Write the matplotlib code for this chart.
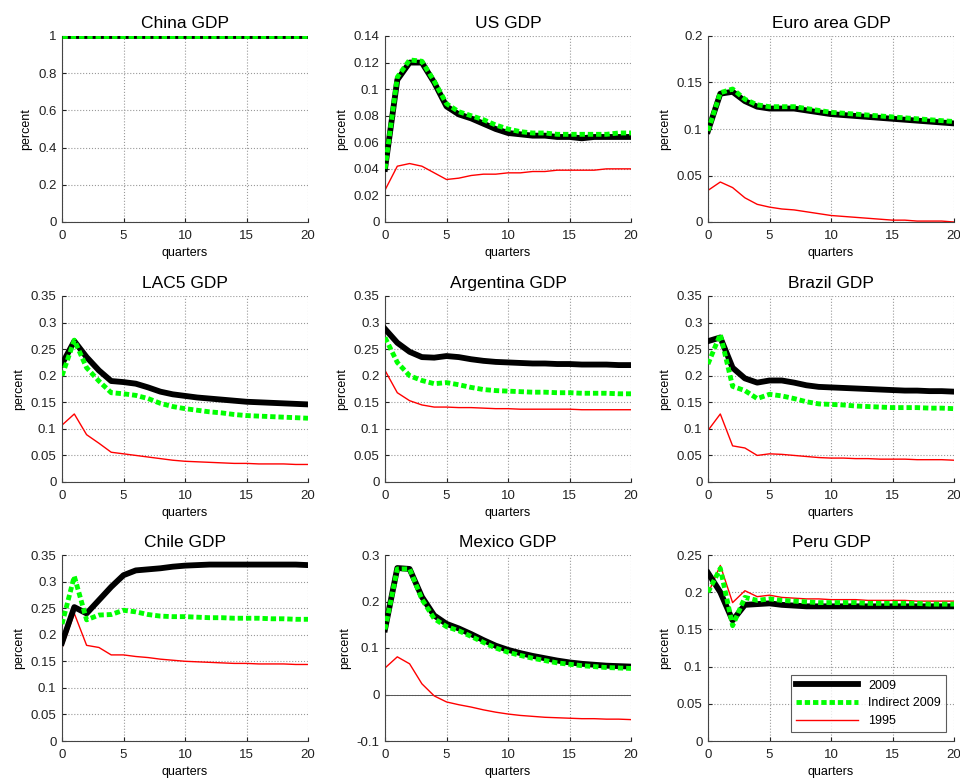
import matplotlib
matplotlib.use("Agg")
import matplotlib.pyplot as plt
import numpy as np

plt.rcParams['font.family'] = ['Liberation Sans', 'DejaVu Sans']

quarters = np.arange(21)

titles = ["China GDP", "US GDP", "Euro area GDP",
          "LAC5 GDP", "Argentina GDP", "Brazil GDP",
          "Chile GDP", "Mexico GDP", "Peru GDP"]

# 2009 (black), Indirect 2009 (green dashed), 1995 (red)
china_2009 = [1.0] * 21
china_ind = [1.0] * 21
china_1995 = [1.0] * 21

us_2009 = [0.040, 0.107, 0.120, 0.120, 0.105, 0.087, 0.081, 0.078, 0.074, 0.070, 0.067,
           0.066, 0.065, 0.065, 0.064, 0.064, 0.063, 0.064, 0.064, 0.064, 0.064]
us_ind = [0.040, 0.109, 0.122, 0.121, 0.106, 0.089, 0.083, 0.080, 0.077, 0.073, 0.070,
          0.068, 0.067, 0.067, 0.066, 0.066, 0.066, 0.066, 0.066, 0.067, 0.067]
us_1995 = [0.024, 0.042, 0.044, 0.042, 0.037, 0.032, 0.033, 0.035, 0.036, 0.036, 0.037,
           0.037, 0.038, 0.038, 0.039, 0.039, 0.039, 0.039, 0.040, 0.040, 0.040]

euro_2009 = [0.098, 0.138, 0.140, 0.130, 0.124, 0.122, 0.122, 0.122, 0.120, 0.118, 0.116,
             0.115, 0.114, 0.113, 0.112, 0.111, 0.110, 0.109, 0.108, 0.107, 0.106]
euro_ind = [0.098, 0.139, 0.143, 0.132, 0.126, 0.124, 0.124, 0.124, 0.122, 0.120, 0.118,
            0.117, 0.116, 0.115, 0.114, 0.113, 0.112, 0.111, 0.110, 0.109, 0.108]
euro_1995 = [0.034, 0.043, 0.037, 0.026, 0.019, 0.016, 0.014, 0.013, 0.011, 0.009, 0.007,
             0.006, 0.005, 0.004, 0.003, 0.002, 0.002, 0.001, 0.001, 0.001, 0.000]

lac5_2009 = [0.222, 0.265, 0.235, 0.210, 0.190, 0.188, 0.185, 0.178, 0.170, 0.165, 0.162,
             0.159, 0.157, 0.155, 0.153, 0.151, 0.150, 0.149, 0.148, 0.147, 0.146]
lac5_ind = [0.200, 0.267, 0.215, 0.190, 0.168, 0.166, 0.163, 0.157, 0.148, 0.142, 0.138,
            0.135, 0.132, 0.130, 0.127, 0.125, 0.124, 0.123, 0.122, 0.121, 0.120]
lac5_1995 = [0.107, 0.128, 0.089, 0.073, 0.056, 0.053, 0.050, 0.047, 0.044, 0.041, 0.039,
             0.038, 0.037, 0.036, 0.035, 0.035, 0.034, 0.034, 0.034, 0.033, 0.033]

arg_2009 = [0.288, 0.262, 0.245, 0.235, 0.234, 0.237, 0.235, 0.231, 0.228, 0.226, 0.225,
            0.224, 0.223, 0.223, 0.222, 0.222, 0.221, 0.221, 0.221, 0.220, 0.220]
arg_ind = [0.272, 0.225, 0.200, 0.191, 0.185, 0.187, 0.183, 0.178, 0.174, 0.172, 0.171,
           0.170, 0.169, 0.169, 0.168, 0.168, 0.167, 0.167, 0.167, 0.166, 0.166]
arg_1995 = [0.210, 0.168, 0.153, 0.145, 0.141, 0.141, 0.140, 0.140, 0.139, 0.138, 0.138,
            0.137, 0.137, 0.137, 0.137, 0.137, 0.136, 0.136, 0.136, 0.136, 0.136]

bra_2009 = [0.265, 0.272, 0.215, 0.195, 0.187, 0.191, 0.191, 0.187, 0.182, 0.179, 0.178,
            0.177, 0.176, 0.175, 0.174, 0.173, 0.172, 0.172, 0.171, 0.171, 0.170]
bra_ind = [0.222, 0.278, 0.180, 0.172, 0.157, 0.165, 0.162, 0.157, 0.151, 0.147, 0.146,
           0.145, 0.143, 0.142, 0.141, 0.140, 0.140, 0.140, 0.139, 0.139, 0.138]
bra_1995 = [0.097, 0.128, 0.068, 0.064, 0.050, 0.053, 0.052, 0.050, 0.048, 0.046, 0.045,
            0.045, 0.044, 0.044, 0.043, 0.043, 0.043, 0.042, 0.042, 0.042, 0.041]

chl_2009 = [0.185, 0.252, 0.240, 0.265, 0.290, 0.312, 0.321, 0.323, 0.325, 0.328, 0.330,
            0.331, 0.332, 0.332, 0.332, 0.332, 0.332, 0.332, 0.332, 0.332, 0.331]
chl_ind = [0.220, 0.310, 0.228, 0.237, 0.238, 0.246, 0.243, 0.238, 0.235, 0.234, 0.234,
           0.233, 0.232, 0.232, 0.231, 0.231, 0.231, 0.230, 0.230, 0.229, 0.229]
chl_1995 = [0.175, 0.240, 0.180, 0.176, 0.162, 0.162, 0.159, 0.157, 0.154, 0.152, 0.150,
            0.149, 0.148, 0.147, 0.146, 0.146, 0.145, 0.145, 0.145, 0.144, 0.144]

mex_2009 = [0.140, 0.272, 0.270, 0.210, 0.170, 0.152, 0.142, 0.130, 0.117, 0.105, 0.096,
            0.089, 0.083, 0.078, 0.073, 0.069, 0.066, 0.064, 0.062, 0.061, 0.060]
mex_ind = [0.140, 0.270, 0.270, 0.205, 0.163, 0.146, 0.137, 0.125, 0.112, 0.100, 0.091,
           0.084, 0.078, 0.073, 0.068, 0.065, 0.062, 0.060, 0.058, 0.057, 0.056]
mex_1995 = [0.057, 0.081, 0.066, 0.023, -0.003, -0.016, -0.022, -0.027, -0.033, -0.038, -0.042,
            -0.045, -0.047, -0.049, -0.050, -0.051, -0.052, -0.052, -0.053, -0.053, -0.054]

peru_2009 = [0.226, 0.200, 0.162, 0.183, 0.184, 0.185, 0.183, 0.182, 0.181, 0.181, 0.181,
             0.181, 0.181, 0.181, 0.181, 0.181, 0.181, 0.181, 0.181, 0.181, 0.181]
peru_ind = [0.200, 0.232, 0.155, 0.193, 0.189, 0.191, 0.189, 0.188, 0.187, 0.186, 0.186,
            0.186, 0.186, 0.185, 0.185, 0.185, 0.185, 0.185, 0.184, 0.184, 0.184]
peru_1995 = [0.198, 0.236, 0.186, 0.202, 0.194, 0.196, 0.193, 0.192, 0.191, 0.191, 0.190,
             0.190, 0.190, 0.189, 0.189, 0.189, 0.189, 0.188, 0.188, 0.188, 0.188]

series = [(china_2009, china_ind, china_1995), (us_2009, us_ind, us_1995),
          (euro_2009, euro_ind, euro_1995), (lac5_2009, lac5_ind, lac5_1995),
          (arg_2009, arg_ind, arg_1995), (bra_2009, bra_ind, bra_1995),
          (chl_2009, chl_ind, chl_1995), (mex_2009, mex_ind, mex_1995),
          (peru_2009, peru_ind, peru_1995)]

ylims = [(0, 1), (0, 0.14), (0, 0.2), (0, 0.35), (0, 0.35), (0, 0.35),
         (0, 0.35), (-0.1, 0.3), (0, 0.25)]
yticks = [np.arange(0, 1.01, 0.2), np.arange(0, 0.141, 0.02), np.arange(0, 0.201, 0.05),
          np.arange(0, 0.351, 0.05), np.arange(0, 0.351, 0.05), np.arange(0, 0.351, 0.05),
          np.arange(0, 0.351, 0.05), np.arange(-0.1, 0.301, 0.1), np.arange(0, 0.251, 0.05)]

fig = plt.figure(figsize=(9.6, 7.79), dpi=100)

lefts = [62 / 960, 385 / 960, 708 / 960]
bottoms = [1 - 222 / 779, 1 - 482 / 779, 1 - 741 / 779]
w = 246 / 960
h = 186 / 779

for i in range(9):
    r, c = divmod(i, 3)
    ax = fig.add_axes([lefts[c], bottoms[r], w, h])
    b, g, rd = series[i]
    ax.plot(quarters, rd, color='red', lw=1.0, label='1995', zorder=2)
    ax.plot(quarters, b, color='black', lw=4.2, label='2009', zorder=3)
    ax.plot(quarters, g, color='#00ff00', lw=3.5, dashes=(1.1, 0.6),
            label='Indirect 2009', zorder=4)
    if i == 7:
        ax.axhline(0, color='#555555', lw=0.7, zorder=1)
    ax.set_xlim(0, 20)
    ax.set_ylim(*ylims[i])
    ax.set_xticks([0, 5, 10, 15, 20])
    ax.set_yticks(yticks[i])
    ax.set_yticklabels([('%g' % round(v, 3)) for v in yticks[i]])
    ax.grid(True, linestyle=':', color='#999999', lw=0.8)
    ax.set_axisbelow(True)
    ax.spines['top'].set_visible(False)
    ax.spines['right'].set_visible(False)
    ax.spines['left'].set_color('#444444')
    ax.spines['bottom'].set_color('#444444')
    ax.tick_params(direction='in', length=3, labelsize=9.5, colors='#222222')
    ax.tick_params(axis='y', pad=4)
    ax.tick_params(axis='x', pad=6)
    ax.set_title(titles[i], fontsize=12.5, pad=6)
    ax.set_xlabel('quarters', fontsize=9, labelpad=3.5)
    ax.set_ylabel('percent', fontsize=9, labelpad=4)
    if i == 8:
        handles, labels = ax.get_legend_handles_labels()
        order = [1, 2, 0]
        leg = ax.legend([handles[k] for k in order], [labels[k] for k in order],
                        loc='lower right', fontsize=9, frameon=True, fancybox=False,
                        handlelength=5.0, borderpad=0.4, labelspacing=0.45,
                        borderaxespad=0, bbox_to_anchor=(0.967, 0.048))
        leg.get_frame().set_edgecolor('#333333')
        leg.get_frame().set_linewidth(0.8)

fig.savefig('out.png', dpi=100)
